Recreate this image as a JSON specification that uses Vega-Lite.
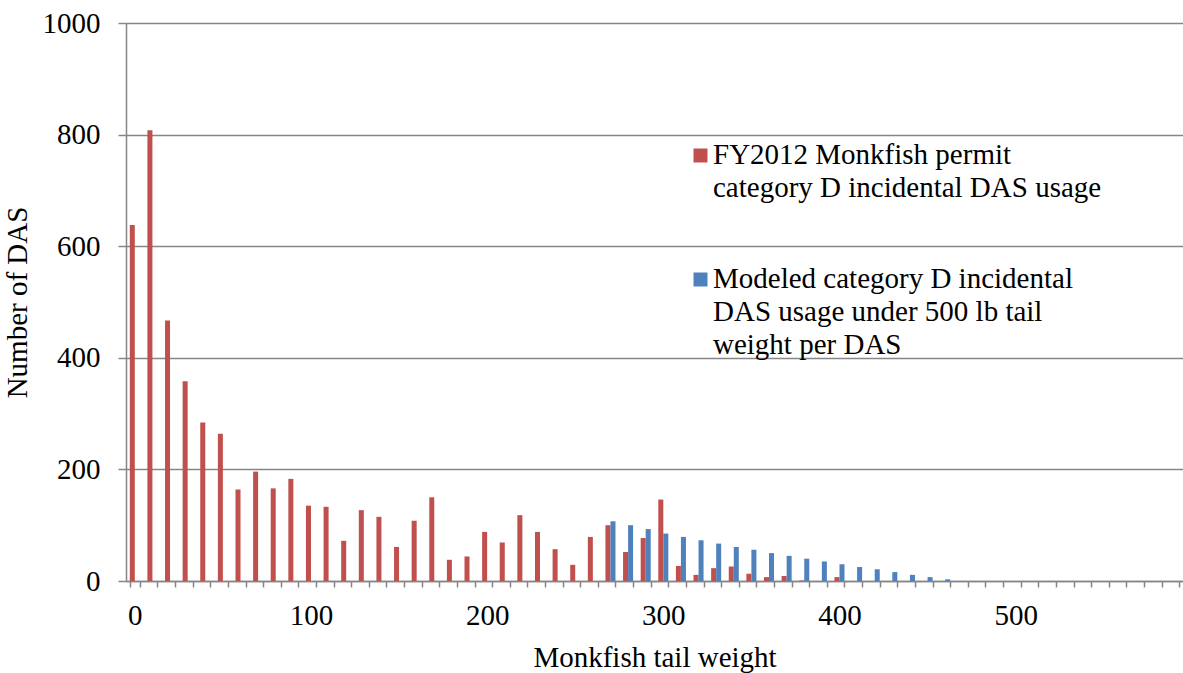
{
  "$schema": "https://vega.github.io/schema/vega-lite/v6.json",
  "width": 1057,
  "height": 558,
  "autosize": {"type": "none"},
  "padding": {"left": 126, "top": 23, "right": 0, "bottom": 92},
  "background": "white",
  "config": {"font": "Liberation Serif", "view": {"stroke": null}, "legend": {"labelFont": "Liberation Serif"}},
  "data": {
    "values": [
      {"weight": 0, "series": "FY2012 Monkfish permit category D incidental DAS usage", "das": 638},
      {"weight": 10, "series": "FY2012 Monkfish permit category D incidental DAS usage", "das": 808},
      {"weight": 20, "series": "FY2012 Monkfish permit category D incidental DAS usage", "das": 467},
      {"weight": 30, "series": "FY2012 Monkfish permit category D incidental DAS usage", "das": 358},
      {"weight": 40, "series": "FY2012 Monkfish permit category D incidental DAS usage", "das": 284},
      {"weight": 50, "series": "FY2012 Monkfish permit category D incidental DAS usage", "das": 264},
      {"weight": 60, "series": "FY2012 Monkfish permit category D incidental DAS usage", "das": 164},
      {"weight": 70, "series": "FY2012 Monkfish permit category D incidental DAS usage", "das": 196},
      {"weight": 80, "series": "FY2012 Monkfish permit category D incidental DAS usage", "das": 166},
      {"weight": 90, "series": "FY2012 Monkfish permit category D incidental DAS usage", "das": 183},
      {"weight": 100, "series": "FY2012 Monkfish permit category D incidental DAS usage", "das": 135},
      {"weight": 110, "series": "FY2012 Monkfish permit category D incidental DAS usage", "das": 133},
      {"weight": 120, "series": "FY2012 Monkfish permit category D incidental DAS usage", "das": 72},
      {"weight": 130, "series": "FY2012 Monkfish permit category D incidental DAS usage", "das": 127},
      {"weight": 140, "series": "FY2012 Monkfish permit category D incidental DAS usage", "das": 115},
      {"weight": 150, "series": "FY2012 Monkfish permit category D incidental DAS usage", "das": 61},
      {"weight": 160, "series": "FY2012 Monkfish permit category D incidental DAS usage", "das": 108},
      {"weight": 170, "series": "FY2012 Monkfish permit category D incidental DAS usage", "das": 150},
      {"weight": 180, "series": "FY2012 Monkfish permit category D incidental DAS usage", "das": 38},
      {"weight": 190, "series": "FY2012 Monkfish permit category D incidental DAS usage", "das": 44},
      {"weight": 200, "series": "FY2012 Monkfish permit category D incidental DAS usage", "das": 88},
      {"weight": 210, "series": "FY2012 Monkfish permit category D incidental DAS usage", "das": 69},
      {"weight": 220, "series": "FY2012 Monkfish permit category D incidental DAS usage", "das": 118},
      {"weight": 230, "series": "FY2012 Monkfish permit category D incidental DAS usage", "das": 88},
      {"weight": 240, "series": "FY2012 Monkfish permit category D incidental DAS usage", "das": 57},
      {"weight": 250, "series": "FY2012 Monkfish permit category D incidental DAS usage", "das": 29},
      {"weight": 260, "series": "FY2012 Monkfish permit category D incidental DAS usage", "das": 79},
      {"weight": 270, "series": "FY2012 Monkfish permit category D incidental DAS usage", "das": 100},
      {"weight": 280, "series": "FY2012 Monkfish permit category D incidental DAS usage", "das": 52},
      {"weight": 290, "series": "FY2012 Monkfish permit category D incidental DAS usage", "das": 77},
      {"weight": 300, "series": "FY2012 Monkfish permit category D incidental DAS usage", "das": 146},
      {"weight": 310, "series": "FY2012 Monkfish permit category D incidental DAS usage", "das": 27},
      {"weight": 320, "series": "FY2012 Monkfish permit category D incidental DAS usage", "das": 11},
      {"weight": 330, "series": "FY2012 Monkfish permit category D incidental DAS usage", "das": 23},
      {"weight": 340, "series": "FY2012 Monkfish permit category D incidental DAS usage", "das": 26},
      {"weight": 350, "series": "FY2012 Monkfish permit category D incidental DAS usage", "das": 13},
      {"weight": 360, "series": "FY2012 Monkfish permit category D incidental DAS usage", "das": 7},
      {"weight": 370, "series": "FY2012 Monkfish permit category D incidental DAS usage", "das": 9},
      {"weight": 380, "series": "FY2012 Monkfish permit category D incidental DAS usage", "das": 1},
      {"weight": 400, "series": "FY2012 Monkfish permit category D incidental DAS usage", "das": 7},
      {"weight": 270, "series": "Modeled category D incidental DAS usage under 500 lb tail weight per DAS", "das": 107},
      {"weight": 280, "series": "Modeled category D incidental DAS usage under 500 lb tail weight per DAS", "das": 100},
      {"weight": 290, "series": "Modeled category D incidental DAS usage under 500 lb tail weight per DAS", "das": 93},
      {"weight": 300, "series": "Modeled category D incidental DAS usage under 500 lb tail weight per DAS", "das": 85},
      {"weight": 310, "series": "Modeled category D incidental DAS usage under 500 lb tail weight per DAS", "das": 79},
      {"weight": 320, "series": "Modeled category D incidental DAS usage under 500 lb tail weight per DAS", "das": 73},
      {"weight": 330, "series": "Modeled category D incidental DAS usage under 500 lb tail weight per DAS", "das": 67},
      {"weight": 340, "series": "Modeled category D incidental DAS usage under 500 lb tail weight per DAS", "das": 61},
      {"weight": 350, "series": "Modeled category D incidental DAS usage under 500 lb tail weight per DAS", "das": 56},
      {"weight": 360, "series": "Modeled category D incidental DAS usage under 500 lb tail weight per DAS", "das": 50},
      {"weight": 370, "series": "Modeled category D incidental DAS usage under 500 lb tail weight per DAS", "das": 45},
      {"weight": 380, "series": "Modeled category D incidental DAS usage under 500 lb tail weight per DAS", "das": 40},
      {"weight": 390, "series": "Modeled category D incidental DAS usage under 500 lb tail weight per DAS", "das": 35},
      {"weight": 400, "series": "Modeled category D incidental DAS usage under 500 lb tail weight per DAS", "das": 30},
      {"weight": 410, "series": "Modeled category D incidental DAS usage under 500 lb tail weight per DAS", "das": 25},
      {"weight": 420, "series": "Modeled category D incidental DAS usage under 500 lb tail weight per DAS", "das": 21},
      {"weight": 430, "series": "Modeled category D incidental DAS usage under 500 lb tail weight per DAS", "das": 16},
      {"weight": 440, "series": "Modeled category D incidental DAS usage under 500 lb tail weight per DAS", "das": 11},
      {"weight": 450, "series": "Modeled category D incidental DAS usage under 500 lb tail weight per DAS", "das": 7},
      {"weight": 460, "series": "Modeled category D incidental DAS usage under 500 lb tail weight per DAS", "das": 3}
    ]
  },
  "mark": {"type": "bar"},
  "encoding": {
    "x": {
      "field": "weight",
      "type": "ordinal",
      "sort": null,
      "scale": {
        "domain": [0,10,20,30,40,50,60,70,80,90,100,110,120,130,140,150,160,170,180,190,200,210,220,230,240,250,260,270,280,290,300,310,320,330,340,350,360,370,380,390,400,410,420,430,440,450,460,470,480,490,500,510,520,530,540,550,560,570,580,590],
        "paddingInner": 0.43,
        "paddingOuter": 0.215
      },
      "axis": {
        "title": "Monkfish tail weight",
        "titleFont": "Liberation Serif",
        "titleFontSize": 29,
        "titleFontWeight": "normal",
        "titleColor": "black",
        "titlePadding": 13,
        "labelExpr": "datum.value % 100 === 0 ? datum.label : ''",
        "labelAngle": 0,
        "labelOverlap": false,
        "labelFont": "Liberation Serif",
        "labelFontSize": 29,
        "labelColor": "black",
        "labelPadding": 14,
        "tickBand": "extent",
        "tickSize": 6,
        "tickColor": "#868686",
        "tickWidth": 1.5,
        "domainColor": "#868686",
        "domainWidth": 1.5,
        "grid": false
      }
    },
    "xOffset": {
      "field": "series",
      "type": "nominal",
      "scale": {
        "domain": ["FY2012 Monkfish permit category D incidental DAS usage", "Modeled category D incidental DAS usage under 500 lb tail weight per DAS"],
        "paddingInner": 0,
        "paddingOuter": 0
      }
    },
    "y": {
      "field": "das",
      "type": "quantitative",
      "scale": {"domain": [0, 1000], "nice": false},
      "axis": {
        "title": "Number of DAS",
        "titleFont": "Liberation Serif",
        "titleFontSize": 29,
        "titleFontWeight": "normal",
        "titleColor": "black",
        "titlePadding": 10,
        "values": [0, 200, 400, 600, 800, 1000],
        "format": "d",
        "labelFont": "Liberation Serif",
        "labelFontSize": 29,
        "labelColor": "black",
        "labelPadding": 18,
        "tickSize": 8,
        "tickColor": "#868686",
        "tickWidth": 1.5,
        "domainColor": "#868686",
        "domainWidth": 1.5,
        "grid": true,
        "gridColor": "#868686",
        "gridWidth": 1.5
      }
    },
    "color": {
      "field": "series",
      "type": "nominal",
      "scale": {
        "domain": ["FY2012 Monkfish permit category D incidental DAS usage", "Modeled category D incidental DAS usage under 500 lb tail weight per DAS"],
        "range": ["#C0504D", "#4F81BD"]
      },
      "legend": {
        "title": null,
        "orient": "none",
        "legendX": 560,
        "legendY": 118,
        "padding": 0,
        "symbolType": "square",
        "symbolSize": 196,
        "symbolStrokeWidth": 0,
        "symbolOpacity": 1,
        "labelFont": "Liberation Serif",
        "labelFontSize": 29,
        "labelColor": "black",
        "labelLimit": 0,
        "labelOffset": -2,
        "labelBaseline": "top",
        "rowPadding": 61,
        "labelExpr": "indexof(datum.label, 'FY2012') == 0 ? ['FY2012 Monkfish permit', 'category D incidental DAS usage'] : ['Modeled category D incidental', 'DAS usage under 500 lb tail', 'weight per DAS']",
        "encode": {
          "labels": {"update": {"dy": {"value": -15}, "lineHeight": {"value": 33}}}
        }
      }
    }
  }
}
